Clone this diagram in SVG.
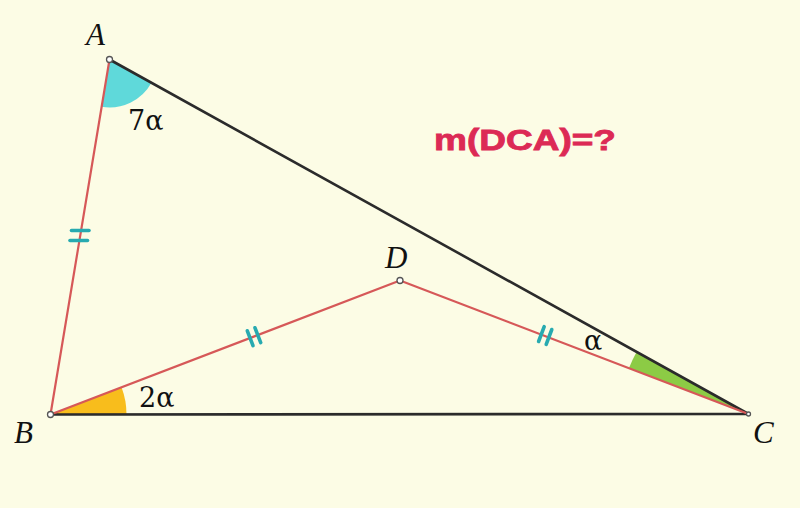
<svg xmlns="http://www.w3.org/2000/svg" width="800" height="508" viewBox="0 0 800 508">
  <style>
    .black { stroke: #2b2b2b; stroke-width: 2.6; fill: none; stroke-linecap: round; }
    .red { stroke: #d65858; stroke-width: 2.2; fill: none; stroke-linecap: round; }
    .tick { stroke: #27aab0; stroke-width: 3.6; stroke-linecap: round; }
    .pt { fill: #ffffff; stroke: #555555; stroke-width: 1.3; }
    .vlabel { font-family: "Liberation Serif", serif; font-style: italic; font-size: 31px; fill: #111111; }
    .alabel { font-family: "DejaVu Serif", serif; font-size: 27px; fill: #111111; }
    .title { font-family: "Liberation Sans", Arial, sans-serif; font-weight: bold; font-size: 29px; fill: #dc2a55; stroke: #dc2a55; stroke-width: 0.8; }
  </style>
  <rect x="0" y="0" width="800" height="508" fill="#fcfce5"/>

  <g id="angles">
    <path id="angle-A" d="M109.5,59.5 L151.5,82.8 A48,48 0 0 1 101.5,106.8 Z" fill="#5fd9da"/>
    <path id="angle-B" d="M50.5,414.5 L126.5,414.5 A76,76 0 0 0 121.5,387.3 Z" fill="#f8bd1c"/>
    <path id="angle-C" d="M748.5,414 L636.6,351.9 A128,128 0 0 0 628.9,368.2 Z" fill="#8ccb45"/>
  </g>

  <g id="connectors">
    <line id="AC" class="black" x1="109.5" y1="59.5" x2="748.5" y2="414"/>
    <line id="BC" class="black" x1="50.5" y1="414.5" x2="748.5" y2="414"/>
    <line id="AB" class="red" x1="109.5" y1="59.5" x2="50.5" y2="414.5"/>
    <line id="BD" class="red" x1="50.5" y1="414.5" x2="400" y2="280.5"/>
    <line id="DC" class="red" x1="400" y1="280.5" x2="748.5" y2="414"/>
  </g>

  <g id="ticks">
    <line class="tick" x1="71.5" y1="230.5" x2="89" y2="230.5"/>
    <line class="tick" x1="70" y1="240.5" x2="87.5" y2="240.5"/>
    <line class="tick" x1="247.3" y1="330.8" x2="253" y2="345.6"/>
    <line class="tick" x1="255" y1="327.8" x2="260.7" y2="342.6"/>
    <line class="tick" x1="538.6" y1="341.5" x2="544.2" y2="326.6"/>
    <line class="tick" x1="546.2" y1="344.4" x2="551.8" y2="329.5"/>
  </g>

  <g id="node-A">
    <circle class="pt" cx="109.5" cy="59.5" r="3"/>
    <text class="vlabel" x="86" y="45">A</text>
  </g>
  <g id="node-B">
    <circle class="pt" cx="50.5" cy="414.5" r="3"/>
    <text class="vlabel" x="14" y="443">B</text>
  </g>
  <g id="node-C">
    <circle class="pt" cx="748.5" cy="414" r="2"/>
    <text class="vlabel" x="753" y="443">C</text>
  </g>
  <g id="node-D">
    <circle class="pt" cx="400" cy="280.5" r="3"/>
    <text class="vlabel" x="385" y="268">D</text>
  </g>

  <g id="angle-labels">
    <text class="alabel" x="128" y="130">7α</text>
    <text class="alabel" x="139" y="407">2α</text>
    <text class="alabel" x="584" y="350">α</text>
  </g>

  <g id="question">
    <text class="title" x="434" y="149.5" textLength="182" lengthAdjust="spacingAndGlyphs">m(DCA)=?</text>
  </g>
</svg>
